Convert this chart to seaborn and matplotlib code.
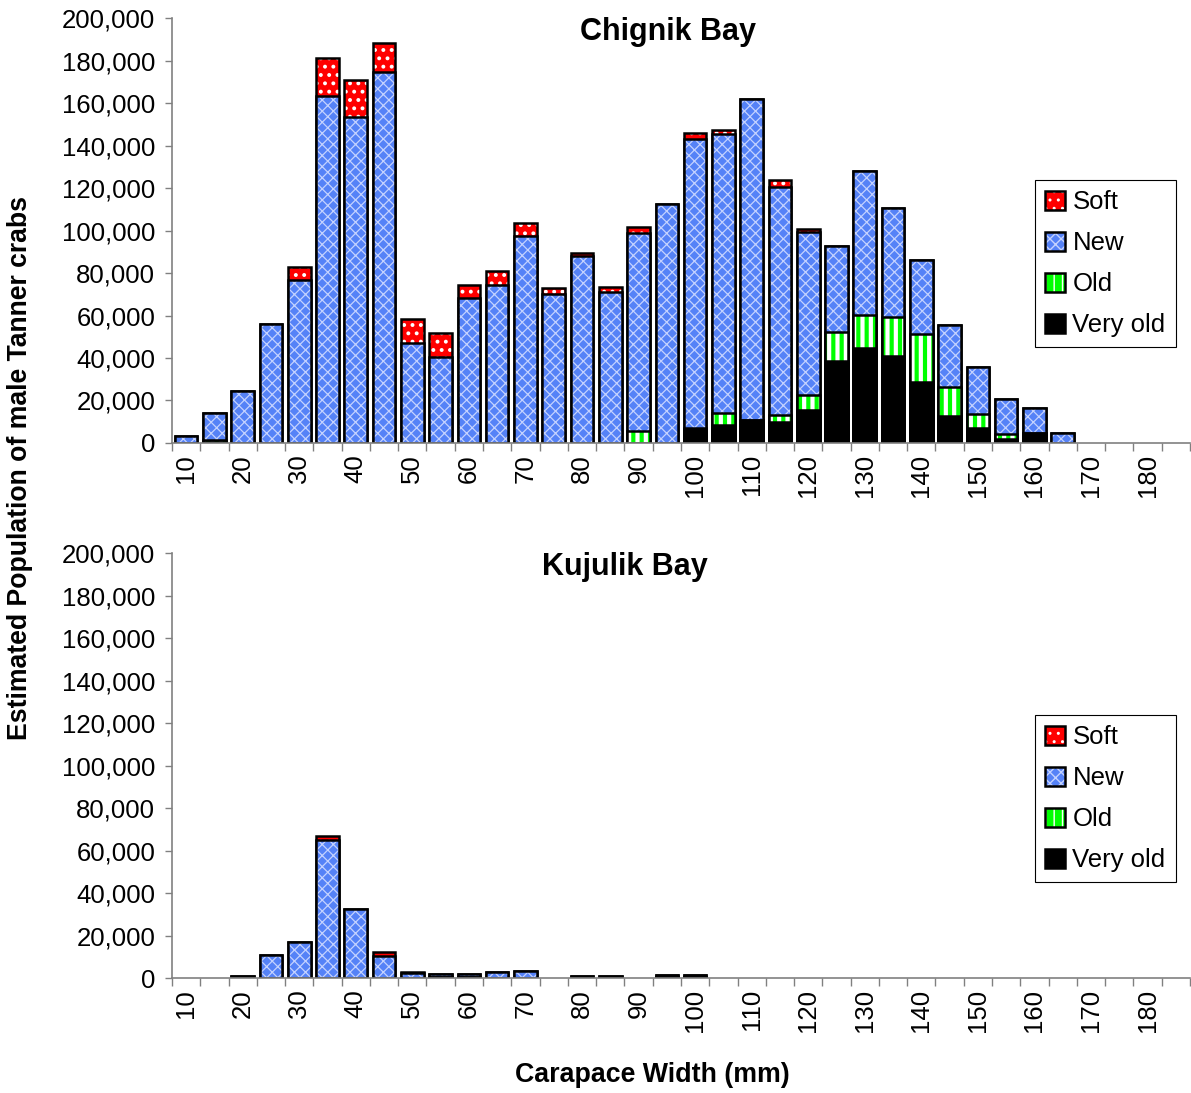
import numpy as np
import pandas as pd
import matplotlib.pyplot as plt
import seaborn as sns
from matplotlib.patches import Patch
from matplotlib.ticker import FuncFormatter

# carapace width classes (mm), 10 .. 185
widths = [str(w) for w in range(10, 190, 5)]

# Chignik Bay, estimated number of male crabs by shell condition
chignik_very_old = [0, 500, 0, 0, 0, 0, 0, 0, 0, 0, 0, 0, 0, 0, 0, 0, 0, 0,
                    6500, 8600, 11000, 9700, 15400, 38400, 44700, 41100, 28700, 12900,
                    7100, 1900, 4700, 0, 0, 0, 0, 0]
chignik_old = [0, 1000, 0, 0, 0, 0, 0, 0, 0, 0, 0, 0, 0, 0, 0, 0, 5500, 0,
               700, 5500, 0, 3600, 7350, 13700, 15700, 18200, 22600, 13300,
               6700, 2500, 0, 0, 0, 0, 0, 0]
chignik_new = [3500, 12600, 24600, 56000, 76500, 163500, 153400, 174700, 47000, 40500,
               68200, 74500, 97200, 70300, 88100, 71200, 93300, 112500,
               136000, 131500, 150900, 107200, 76400, 40500, 67800, 51100, 35000, 29500,
               21900, 16300, 11600, 4700, 0, 0, 0, 0]
chignik_soft = [0, 0, 0, 0, 6300, 17500, 17600, 13400, 11300, 11400,
                6300, 6300, 6300, 2800, 1100, 2000, 2700, 0,
                2700, 1500, 0, 3100, 1500, 0, 0, 0, 0, 0,
                0, 0, 0, 0, 0, 0, 0, 0]

# Kujulik Bay
kujulik_very_old = [0, 0, 0, 0, 0, 0, 0, 0, 0, 500, 700, 0, 0, 0, 0, 0, 0, 600,
                    500, 0, 0, 0, 0, 0, 0, 0, 0, 0, 0, 0, 0, 0, 0, 0, 0, 0]
kujulik_old = [0] * 36
kujulik_new = [0, 0, 1000, 11000, 16800, 65100, 32500, 10500, 2300, 1500, 1100, 2600,
               3500, 0, 1000, 1000, 0, 1000, 700, 0, 0, 0, 0, 0, 0, 0, 0, 0,
               0, 0, 0, 0, 0, 0, 0, 0]
kujulik_soft = [0, 0, 0, 0, 0, 1800, 0, 1700, 700, 0, 0, 0, 0, 0, 0, 0, 0, 0,
                0, 0, 0, 0, 0, 0, 0, 0, 0, 0, 0, 0, 0, 0, 0, 0, 0, 0]

shell_names = ["Soft", "New", "Old", "Very old"]
# face colour, hatch, hatch colour, hatch linewidth
shell_styles = {
    "Soft": ("#ff0000", "..", "white", 1.6),
    "New": ("#5582f7", "xxx", "#c4d2ff", 0.9),
    "Old": ("#00ff00", "||", "white", 3.0),
    "Very old": ("#000000", "", "black", 1.0),
}

sns.set_style("white")
plt.rcParams["font.family"] = ["Liberation Sans", "DejaVu Sans"]
plt.rcParams["text.color"] = "black"
plt.rcParams["xtick.labelcolor"] = "black"
plt.rcParams["ytick.labelcolor"] = "black"


def draw_panel(ax, very_old, old, new, soft, title, title_x):
    layer_vo = np.array(very_old, dtype=float)
    layer_old = layer_vo + np.array(old)
    layer_new = layer_old + np.array(new)
    layer_soft = layer_new + np.array(soft)
    df = pd.DataFrame({"width": widths, "Soft": layer_soft, "New": layer_new,
                       "Old": layer_old, "Very old": layer_vo})

    # overlay cumulative totals, tallest first
    for name in shell_names:
        face, hatch, hcol, hlw = shell_styles[name]
        sub = df[df[name] > 0]
        if sub.empty:
            continue
        with plt.rc_context({"hatch.linewidth": hlw}):
            sns.barplot(data=sub, x="width", y=name, order=widths, ax=ax, width=0.8,
                        saturation=1, errorbar=None, facecolor=face, edgecolor=hcol,
                        hatch=hatch, linewidth=0)
        sns.barplot(data=sub, x="width", y=name, order=widths, ax=ax, width=0.8,
                    errorbar=None, facecolor="none", edgecolor="black", linewidth=1.8)

    ax.set_xlim(-0.5, len(widths) - 0.5)
    ax.set_ylim(0, 200000)
    ax.set_xlabel("")
    ax.set_ylabel("")

    ax.set_xticks(np.arange(-0.5, len(widths), 1), labels=[""] * (len(widths) + 1))
    ax.set_xticks(np.arange(0, len(widths), 2), labels=widths[::2], minor=True)
    ax.tick_params(axis="x", which="major", length=6, width=1, color="#808080", direction="out", bottom=True)
    ax.tick_params(axis="x", which="minor", length=0, pad=8, labelsize=18.5, labelrotation=90,
                   labelcolor="black")

    ax.set_yticks(range(0, 200001, 20000))
    ax.yaxis.set_major_formatter(FuncFormatter(lambda v, p: f"{int(v):,}"))
    ax.tick_params(axis="y", length=5, width=1, color="#808080", direction="out", left=True,
                   labelsize=18.5, pad=7, labelcolor="black")

    sns.despine(ax=ax)
    for s in ["left", "bottom"]:
        ax.spines[s].set_color("#808080")
        ax.spines[s].set_linewidth(1.2)

    ax.text(title_x, 0.967, title, transform=ax.transAxes, ha="center", va="center",
            fontsize=22, fontweight="bold", color="black")

    handles = []
    for name in shell_names:
        face, hatch, hcol, hlw = shell_styles[name]
        with plt.rc_context({"hatch.linewidth": hlw}):
            fill = Patch(facecolor=face, edgecolor=hcol, hatch=hatch, linewidth=0)
        outline = Patch(facecolor="none", edgecolor="black", linewidth=1.8)
        handles.append((fill, outline))
    leg = ax.legend(handles, shell_names, loc="upper left", bbox_to_anchor=(0.848, 0.619),
                    borderaxespad=0, frameon=True, fancybox=False, framealpha=1,
                    edgecolor="black", fontsize=18.5, handlelength=0.75, handleheight=0.75,
                    handletextpad=0.3, labelspacing=0.66, borderpad=0.4, labelcolor="black")
    leg.get_frame().set_linewidth(0.8)


fig = plt.figure(figsize=(11.91, 10.93), dpi=100)
ax1 = fig.add_axes([0.1444, 0.5947, 0.8547, 0.3888])
ax2 = fig.add_axes([0.1444, 0.1052, 0.8547, 0.3888])

draw_panel(ax1, chignik_very_old, chignik_old, chignik_new, chignik_soft, "Chignik Bay", 0.487)
draw_panel(ax2, kujulik_very_old, kujulik_old, kujulik_new, kujulik_soft, "Kujulik Bay", 0.445)

fig.text(0.5475, 0.0165, "Carapace Width (mm)", ha="center", va="center",
         fontsize=19.3, fontweight="bold", color="black")
fig.text(0.0168, 0.572, "Estimated Population of male Tanner crabs", ha="center", va="center",
         rotation=90, fontsize=19.2, fontweight="bold", color="black")

fig.savefig("out.png", dpi=100)
